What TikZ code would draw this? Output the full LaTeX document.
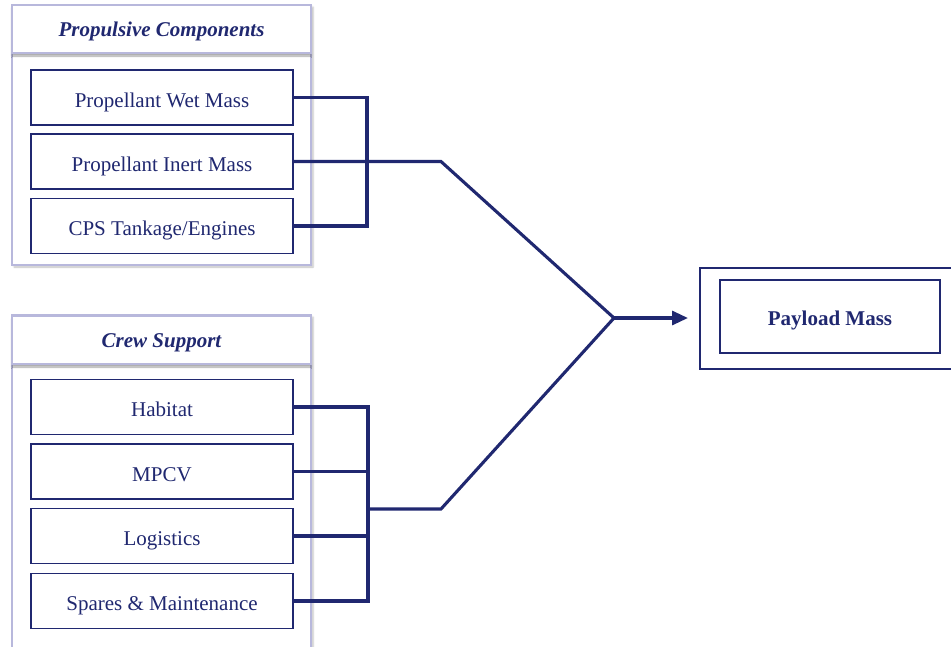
\documentclass[tikz,border=0pt]{standalone}
\usepackage{fontspec}
\setmainfont{Liberation Serif}
\usetikzlibrary{arrows.meta,shadows.blur}
\definecolor{navy}{RGB}{32,40,112}
\definecolor{lav}{RGB}{184,184,220}
\tikzset{
  panel/.style={draw=lav, line width=1.4pt, fill=white, blur shadow={shadow xshift=2pt, shadow yshift=-2pt, shadow blur steps=5, shadow opacity=25}},
  header/.style={draw=lav, line width=1.4pt, fill=white, minimum width=299pt, minimum height=48pt, inner sep=0pt,
    text height=15pt, text depth=0pt,
    text=navy, font=\fontsize{21}{24}\selectfont\bfseries\itshape,
    blur shadow={shadow xshift=0pt, shadow yshift=-3pt, shadow blur steps=5, shadow opacity=35}},
  item/.style={draw=navy, line width=1.9pt, fill=white, minimum width=262pt, minimum height=55pt, inner sep=0pt,
    text height=19.5pt, text depth=0pt,
    text=navy, font=\fontsize{21}{24}\selectfont},
  conn/.style={draw=navy, line width=3.1pt, line join=miter},
}
\begin{document}
\begin{tikzpicture}[x=1pt,y=-1pt]
\useasboundingbox (0,0) rectangle (951,646);
% panels
\path[panel] (12,5) rectangle (311,265);
\path[panel] (12,315) rectangle (311,660);
\node[header] (hp) at (161.5,29) {Propulsive Components};
\node[header] (hc) at (161.5,340) {Crew Support};
% propulsive items
\node[item] (pw) at (162,97.5) {Propellant Wet Mass};
\node[item] (pi) at (162,161.5) {Propellant Inert Mass};
\node[item] (cps) at (162,226) {CPS Tankage/Engines};
% crew items
\node[item] (hab) at (162,407) {Habitat};
\node[item] (mpcv) at (162,471.5) {MPCV};
\node[item] (log) at (162,536) {Logistics};
\node[item] (spa) at (162,601) {Spares \& Maintenance};
% payload
\draw[navy, line width=1.9pt] (952,268) -- (700,268) -- (700,369) -- (952,369);
\coordinate (pout) at (700,318);
\node[item, minimum width=220pt, minimum height=73pt, text height=17pt, font=\fontsize{21}{24}\selectfont\bfseries] (pay) at (830,316.5) {Payload Mass};
% connectors
\coordinate (jt) at (367,161.5);
\coordinate (mt) at (441,161.5);
\coordinate (jb) at (368,509);
\coordinate (mb) at (441,509);
\coordinate (v) at (614,318);
\draw[conn] (pw.east) -| (jt) |- (cps.east);
\draw[conn] (pi.east) -- (mt) -- (v);
\draw[conn] (hab.east) -| (jb) |- (spa.east);
\draw[conn] (mpcv.east) -- (mpcv.east -| jb);
\draw[conn] (log.east) -- (log.east -| jb);
\draw[conn] (jb) -- (mb) -- (v);
\draw[conn, -{Triangle[length=16pt,width=14pt]}, shorten >=12pt] (v) -- (pout);
\end{tikzpicture}
\end{document}
